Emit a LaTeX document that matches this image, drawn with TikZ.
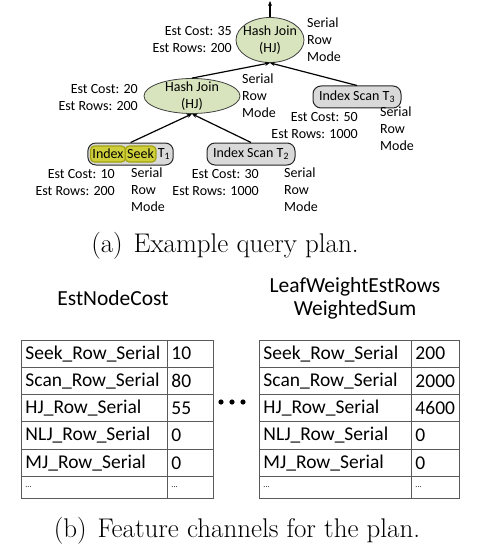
\documentclass[tikz,border=0pt]{standalone}
\usepackage{fontspec}
\setsansfont{Carlito}
\usetikzlibrary{shapes.geometric,positioning,fit,backgrounds,matrix,arrows.meta}

\definecolor{joingreen}{HTML}{D7E4BD}
\definecolor{scangray}{HTML}{D9D9D9}
\definecolor{seekfill}{HTML}{CFCF3C}
\definecolor{seekline}{HTML}{A3A312}
\definecolor{gridgray}{HTML}{5A5A5A}

\newcommand{\lblfont}{\sffamily\fontsize{14}{17}\selectfont}
\newcommand{\cellfont}{\sffamily\fontsize{19.5}{23}\selectfont}
\newcommand{\hdrfont}{\sffamily\fontsize{21.5}{23}\selectfont}

\tikzset{
  joinop/.style={ellipse, draw=black!75, fill=joingreen, line width=0.8pt, font=\lblfont, align=center},
  scanop/.style={draw=black!85, fill=scangray, rounded corners=8pt, line width=1pt, font=\lblfont,
    minimum width=88pt, minimum height=22pt, inner sep=0pt},
  seekmark/.style={draw=seekline, fill=seekfill, rounded corners=4pt, line width=1.2pt, font=\lblfont,
    minimum height=16pt, inner xsep=2pt, inner ysep=0pt},
  costlbl/.style={font=\lblfont, align=right, anchor=north east, inner sep=0pt},
  modelbl/.style={font=\lblfont, align=left, anchor=north west, inner sep=0pt},
  flow/.style={line width=1.2pt, -{Stealth[length=5pt,width=4pt]}},
  feat/.style={matrix of nodes, column sep=-0.9pt, row sep=-0.9pt, anchor=north west,
    nodes={draw=gridgray, line width=0.9pt, font=\cellfont, minimum height=27.3pt,
      inner xsep=4.5pt, inner ysep=0pt, anchor=center},
    row 6/.style={nodes={minimum height=22pt, font=\sffamily\fontsize{8}{9}\selectfont}}},
  caption/.style={font=\fontsize{27}{30}\selectfont}
}

\begin{document}
\begin{tikzpicture}[x=1pt, y=-1pt]
    \useasboundingbox (0,0) rectangle (480,559);

    % (a) query plan
    \node[joinop, minimum width=68pt, minimum height=45pt, inner xsep=-4pt, inner ysep=-4pt] (root) at (270,40) {Hash Join\\(HJ)};
    \node[joinop, minimum width=96pt, minimum height=35pt, inner xsep=-4pt, inner ysep=-7pt] (hj2) at (192,96) {Hash Join\\(HJ)};
    \node[scanop] (scan3) at (357,97) {Index Scan T\textsubscript{3}};
    \node[scanop] (scan2) at (251,154) {Index Scan T\textsubscript{2}};

    \node[seekmark] (hlindex) at (108,154) {Index};
    \node[seekmark, right=-1.5pt of hlindex] (hlseek) {Seek};
    \node[font=\lblfont, inner sep=1pt, right=0pt of hlseek] (seekt) {T\textsubscript{1}};
    \begin{scope}[on background layer]
      \node[scanop, minimum width=0pt, inner sep=2pt, fit=(hlindex)(seekt)] (seek) {};
    \end{scope}
    \coordinate (planout) at (270,1);

    \path (hj2.north)   edge[flow] (root.south)
          (scan3.north) edge[flow] (root.south)
          (seek.north)  edge[flow] (hj2.south)
          (scan2.north) edge[flow] (hj2.south)
          (root.north)  edge[flow] (planout);

    \node[costlbl] (rootcost)  at (232,26)  {Est Cost: 35\\Est Rows: 200};
    \node[costlbl] (hj2cost)   at (138,84)  {Est Cost: 20\\Est Rows: 200};
    \node[costlbl] (scan3cost) at (358,112) {Est Cost: 50\\Est Rows: 1000};
    \node[costlbl] (seekcost)  at (115,169) {Est Cost: 10\\Est Rows: 200};
    \node[costlbl] (scan2cost) at (259,169) {Est Cost: 30\\Est Rows: 1000};

    \foreach \x/\y [count=\i] in {307/18, 242/74, 380/107, 131/168, 284/168}
      \node[modelbl] (mode-\i) at (\x,\y) {Serial\\Row\\Mode};

    \node[caption] (capa) at (225,246) {(a)\hspace{0.4em}Example query plan.};

    % (b) feature channels
    \node[font=\hdrfont] (costhdr) at (113,298) {EstNodeCost};
    \node[font=\hdrfont, align=center] (rowshdr) at (355,298.5) {LeafWeightEstRows\\WeightedSum};

    \matrix[feat, column 1/.style={nodes={text width=137pt}}, column 2/.style={nodes={text width=37pt}}] (costtab) at (17,336) {%
      Seek\_Row\_Serial & 10 \\
      Scan\_Row\_Serial & 80 \\
      HJ\_Row\_Serial   & 55 \\
      NLJ\_Row\_Serial  & 0  \\
      MJ\_Row\_Serial   & 0  \\
      ...               & ...\\
    };
    \matrix[feat, column 1/.style={nodes={text width=143pt}}, column 2/.style={nodes={text width=39pt}}] (rowstab) at (255,336) {%
      Seek\_Row\_Serial & 200  \\
      Scan\_Row\_Serial & 2000 \\
      HJ\_Row\_Serial   & 4600 \\
      NLJ\_Row\_Serial  & 0    \\
      MJ\_Row\_Serial   & 0    \\
      ...               & ...  \\
    };

    \foreach \dx in {-11,0,11} {\fill (232+\dx,402) circle (2.6pt);};

    \node[caption] (capb) at (237,531) {(b)\hspace{0.4em}Feature channels for the plan.};
\end{tikzpicture}
\end{document}
